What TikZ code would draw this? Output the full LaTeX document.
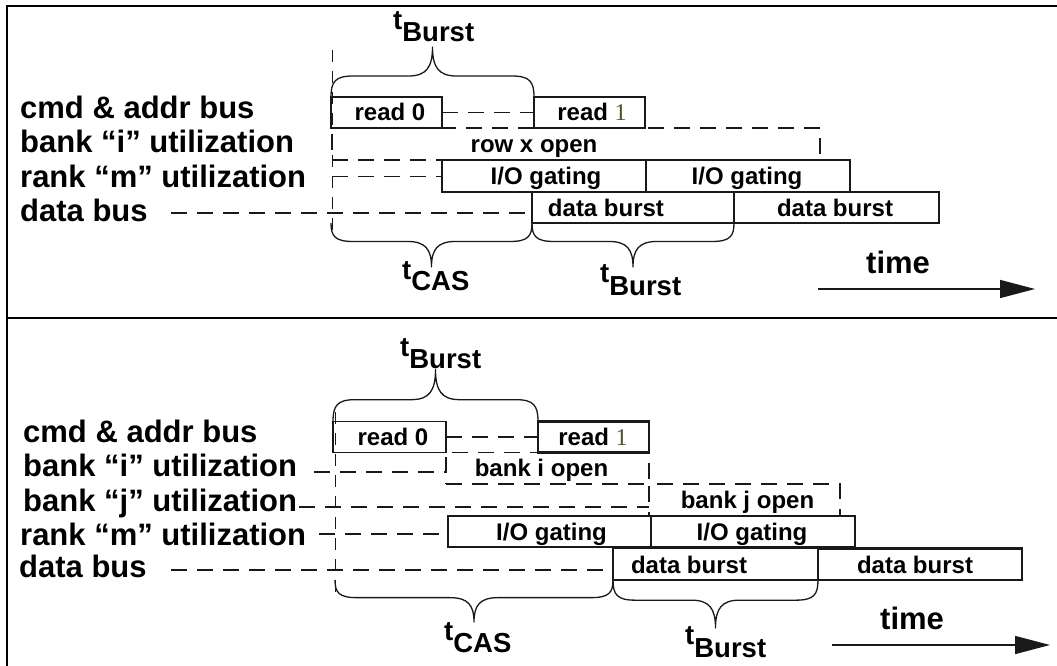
\documentclass[tikz,border=0pt]{standalone}
\usepackage{fontspec}
\setmainfont{Liberation Sans}
\newfontfamily\digitserif{Liberation Serif}
\usetikzlibrary{arrows.meta,calc}
\definecolor{oneink}{RGB}{84,78,40}
\definecolor{pen}{RGB}{25,25,25}

\tikzset{
  rowlabel/.style={anchor=base west, inner sep=0pt, font=\fontsize{31}{31}\selectfont\bfseries},
  boxtext/.style={anchor=base, inner sep=0pt, font=\fontsize{24}{24}\selectfont\bfseries},
  slot/.style={draw=pen, line width=1.3pt, inner sep=0pt, outer sep=0pt, minimum height=31pt},
  busy/.style={slot, line width=2.6pt},
  openrow/.style={draw=pen, dash pattern=on 16pt off 10pt, line width=1.2pt, inner sep=0pt, outer sep=0pt},
  idle/.style={draw=pen, dash pattern=on 16pt off 10pt, line width=1.2pt},
  guide/.style={draw=pen, dash pattern=on 12pt off 9pt, line width=0.8pt},
  bracepen/.style={draw=pen, line width=1.3pt, line join=round},
  tlabel/.style={anchor=base west, inner sep=0pt, font=\fontsize{27.5}{27.5}\selectfont\bfseries},
  timelabel/.style={anchor=base west, inner sep=0pt, font=\fontsize{31}{31}\selectfont\bfseries},
  timearrow/.style={draw=pen, line width=1.5pt, -{Triangle[length=35pt,width=18pt]}},
  panelrule/.style={draw=black, line width=1.4pt},
  % curly brace from the origin to (#1,0); #2 > 0 points up, #2 < 0 points down
  pics/curly/.style 2 args={code={
    \draw[bracepen] (0,0)
      .. controls (0,{-0.3*#2}) and (4,{-0.42*#2}) .. (22,{-0.42*#2})
      -- ({#1/2-24},{-0.42*#2})
      .. controls ({#1/2-6},{-0.42*#2}) and ({#1/2},{-0.6*#2}) .. ({#1/2},{-#2})
      .. controls ({#1/2},{-0.6*#2}) and ({#1/2+6},{-0.42*#2}) .. ({#1/2+24},{-0.42*#2})
      -- ({#1-22},{-0.42*#2})
      .. controls ({#1-4},{-0.42*#2}) and (#1,{-0.3*#2}) .. (#1,0);
  }}
}

\begin{document}
\begin{tikzpicture}[x=1pt, y=-1pt]
\useasboundingbox (0,0) rectangle (1057,666);

% panel frame and divider
\draw[panelrule] (1057,6) -- (7,6) -- (7,666);
\draw[panelrule] (7,318) -- (1057,318);

% ================= upper panel: reads to one open row =================
\node[rowlabel] (u-cmd-l)  at (20,119)   {cmd \& addr bus};
\node[rowlabel] (u-bank-l) at (20,152.5) {bank “i” utilization};
\node[rowlabel] (u-rank-l) at (20,187.5) {rank “m” utilization};
\node[rowlabel] (u-data-l) at (20,221.5) {data bus};

\coordinate (u-guide-top) at (332,50);
\coordinate (u-guide-bot) at (332,232);
\draw[guide] (u-guide-top) -- (u-guide-bot);

% bank i keeps row x open
\node[openrow, minimum width=488pt, minimum height=32pt] (u-row) at (576,144) {};
\node[boxtext] (u-row-t) at (534,153) {row x open};

% command bus
\node[slot, minimum width=111pt] (u-r0) at (386.5,112.5) {};
\node[busy, minimum width=111pt] (u-r1) at (589.5,112.5) {};
\node[boxtext] (u-r0-t) at (390,121) {read 0};
\node[boxtext] (u-r1-t) at (592,121) {read {\digitserif\mdseries\color{oneink}1}};
\draw[idle] (u-r0.east) -- (u-r1.west);

% rank I/O gating
\node[slot, minimum width=204pt, minimum height=32pt] (u-io1) at (544,176) {};
\node[busy, minimum width=204pt, minimum height=32pt] (u-io2) at (748,176) {};
\node[boxtext] (u-io1-t) at (546,184.5) {I/O gating};
\node[boxtext] (u-io2-t) at (747,184.5) {I/O gating};
\coordinate (u-rank-s) at (332,176.5);
\draw[idle] (u-rank-s) -- (u-rank-s -| u-io1.west);

% data bus
\node[slot, minimum width=202pt] (u-db1) at (633,207.5) {};
\node[busy, minimum width=205pt] (u-db2) at (836.5,207.5) {};
\node[boxtext] (u-db1-t) at (606,216) {data burst};
\node[boxtext] (u-db2-t) at (835,216) {data burst};
\coordinate (u-data-s) at (171,213);
\draw[idle] (u-data-s) -- (u-data-s -| u-db1.west);

% timing braces
\pic at (u-r0.north west) {curly={203}{50}};
\pic at (u-r0.west |- u-db1.south) {curly={201}{-44}};
\pic at (u-db1.south west) {curly={202}{-44}};
\node[tlabel] (u-tb-top) at (393,30)  {t\raisebox{-12pt}{Burst}};
\node[tlabel] (u-tcas)   at (402,279) {t\raisebox{-11pt}{CAS}};
\node[tlabel] (u-tb-bot) at (600,282) {t\raisebox{-13pt}{Burst}};

% time axis
\node[timelabel] (u-time) at (866,273) {time};
\coordinate (u-arr-s) at (818,289);
\coordinate (u-arr-e) at (1035,289);
\draw[timearrow] (u-arr-s) -- (u-arr-e);

% ================= lower panel: reads to two banks =================
\node[rowlabel] (l-cmd-l)   at (23,442)   {cmd \& addr bus};
\node[rowlabel] (l-banki-l) at (23,476.5) {bank “i” utilization};
\node[rowlabel] (l-bankj-l) at (23,511)   {bank “j” utilization};
\node[rowlabel] (l-rank-l)  at (20,545.5) {rank “m” utilization};
\node[rowlabel] (l-data-l)  at (19,577)   {data bus};

\coordinate (l-guide-top) at (335,412);
\coordinate (l-guide-bot) at (335,592);
\draw[guide] (l-guide-top) -- (l-guide-bot);

% banks i and j open
\node[openrow, minimum width=203pt, minimum height=31.5pt] (l-bi) at (547.5,468.25) {};
\node[openrow, minimum width=191pt, minimum height=32pt] (l-bj) at (744.5,500) {};
\node[boxtext] (l-bi-t) at (541.5,476.5) {bank i open};
\node[boxtext] (l-bj-t) at (747.5,508.5) {bank j open};
\coordinate (l-banki-s) at (314,472);
\draw[idle] (l-banki-s) -- (l-banki-s -| l-bi.west);
\coordinate (l-bankj-s) at (299,507);
\draw[idle] (l-bankj-s) -- (l-bankj-s -| l-bj.west);

% command bus
\node[slot, minimum width=113pt] (l-r0) at (389.5,437) {};
\node[busy, minimum width=111pt] (l-r1) at (593.5,437) {};
\node[boxtext] (l-r0-t) at (393,445.5) {read 0};
\node[boxtext] (l-r1-t) at (593,445.5) {read {\digitserif\mdseries\color{oneink}1}};
\draw[idle] (l-r0.east) -- (l-r1.west);

% rank I/O gating
\node[slot, minimum width=203pt] (l-io1) at (549.5,531.5) {};
\node[busy, minimum width=204pt] (l-io2) at (753,531.5) {};
\node[boxtext] (l-io1-t) at (551.5,540) {I/O gating};
\node[boxtext] (l-io2-t) at (752,540) {I/O gating};
\coordinate (l-rank-s) at (319,534);
\draw[idle] (l-rank-s) -- (l-rank-s -| l-io1.west);

% data bus
\node[slot, minimum width=205pt, minimum height=31.5pt] (l-db1) at (715.5,564.25) {};
\node[busy, minimum width=204pt, minimum height=31.5pt] (l-db2) at (920,564.25) {};
\node[boxtext] (l-db1-t) at (689,573) {data burst};
\node[boxtext] (l-db2-t) at (915,573) {data burst};
\coordinate (l-data-s) at (171,570);
\draw[idle] (l-data-s) -- (l-data-s -| l-db1.west);

% timing braces
\pic at (l-r0.north west) {curly={205}{52}};
\pic at (l-guide-top |- l-db1.south) {curly={278}{-42}};
\pic at (l-db1.south west) {curly={205}{-48}};
\node[tlabel] (l-tb-top) at (400,356) {t\raisebox{-12pt}{Burst}};
\node[tlabel] (l-tcas)   at (444,640) {t\raisebox{-12pt}{CAS}};
\node[tlabel] (l-tb-bot) at (685,644) {t\raisebox{-13pt}{Burst}};

% time axis
\node[timelabel] (l-time) at (880,629) {time};
\coordinate (l-arr-s) at (832,645);
\coordinate (l-arr-e) at (1050,645);
\draw[timearrow] (l-arr-s) -- (l-arr-e);
\end{tikzpicture}
\end{document}
